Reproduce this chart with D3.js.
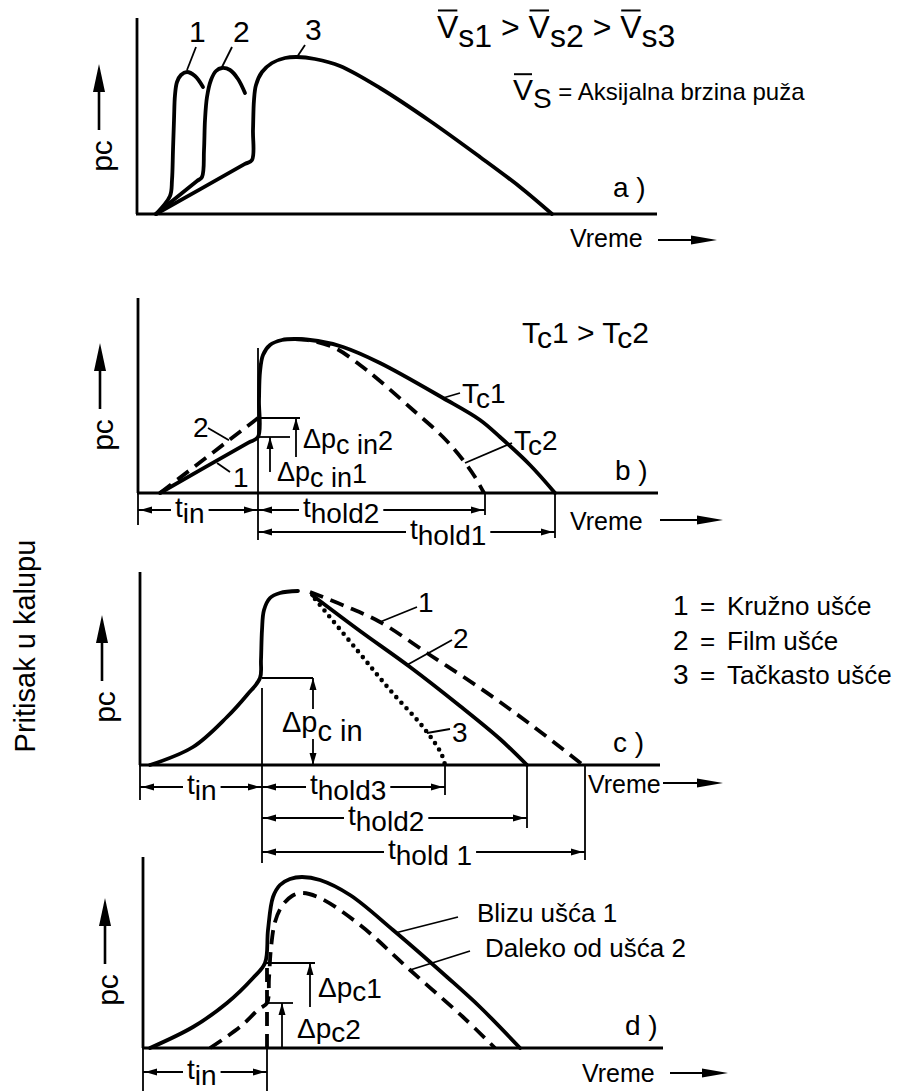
<!DOCTYPE html>
<html lang="sr">
<head>
<meta charset="UTF-8">
<title>Pritisak u kalupu</title>
<script src="https://d3js.org/d3.v7.min.js"></script>
<style>
    body { margin: 0; background: #fff; }
    svg { display: block; font-family: "Liberation Sans", Arial, sans-serif; }
    text { fill: #000; }
    .curve { fill: none; stroke: #000; stroke-width: 3.8; stroke-linejoin: round; stroke-linecap: round; }
    .dash { stroke-dasharray: 14 8; stroke-linecap: butt; }
    .dots { stroke-dasharray: 0 7.5; stroke-linecap: round; stroke-width: 4.6; }
    .axis { stroke: #000; stroke-width: 2.8; }
    .thin { stroke: #000; stroke-width: 1.8; fill: none; }
</style>
</head>
<body>
<svg id="chart" width="910" height="1091"></svg>
<script>
// all values in chart units: time 0..104, pressure 0..100

// a) axial screw speed
const aCurve1 = [[3.8,0],[6.6,9],[7,17],[7.2,32],[7.4,47],[7.6,59.5],[8,66],[8.8,69.5],[10,71],[11.6,69],[13.2,63.5]];
const aCurve2 = [[3.8,0],[12,16.5],[13,18.5],[13.4,32],[13.6,47],[14,58.5],[14.8,67],[15.8,71.5],[17,73],[18.6,72],[20.2,67.5],[21.6,60.5]];
const aCurve3 = [[3.8,0],[21.5,24.9],[23,27],[23.2,42],[23.4,57],[23.8,64.5],[25,71],[27,75.5],[29.6,78],[32,78.5],[35.6,77.5],[40.6,74],[48.6,63],[58.6,46.5],[68.6,28.5],[76.6,13.5],[83,0]];

// b) mould temperature
const bTc1 = [[4.4,0],[22,25.1],[24,28],[24.2,46.5],[24.4,60.5],[25,69],[26.4,74],[28.8,76.5],[31.4,77],[36,76],[41,73],[48.4,65],[61,47.5],[68.4,36.5],[72.4,28],[78.4,14],[83.4,0]];
const bTc2Rise = [[4.4,0],[24,37.5]];
const bTc2Fall = [[31.4,77],[33.8,76.5],[39.4,72.5],[44.4,64],[48.4,56],[55,41.5],[61,28],[65,16.5],[67.4,8],[69.2,0]];

// c) gate type
const cRise = [[2,0],[10.6,9],[17.4,24],[21.4,35],[24,43.5],[24.2,52.5],[24.4,67.5],[24.8,77.5],[26,83.5],[28,86],[31.6,87]];
const cGate1 = [[34,86.5],[41,79.5],[48,71.5],[58,55],[68,38.5],[78,20.5],[88.6,0]];
const cGate2 = [[34.4,85],[44,67],[54,49],[64,29.5],[72,13],[77.4,0]];
const cGate3 = [[35,83],[43.4,57.5],[50,37.5],[56.6,19],[60.2,6],[61,0]];

// d) distance from gate
const dNear = [[1.4,0],[10,10.5],[16.8,22.5],[22,35],[24.4,42.5],[25,59],[26,75.5],[27.4,81.5],[29.4,84.5],[31.8,85.5],[35.4,84],[41.4,76.5],[50,59],[60.8,35.5],[67.4,20.5],[75.4,0]];
const dFar = [[13.4,0],[19.4,10.5],[23.2,19.5],[24.8,22.5],[25.2,35],[25.6,50],[26.4,63],[27.8,71],[29.8,76],[31.8,77.5],[35.4,75],[43.4,61.5],[53.4,39],[64,15.5],[70.4,0]];

const gateNums = ["1", "2", "3"];
const gateNames = ["Kružno ušće", "Film ušće", "Tačkasto ušće"];

const panels = [
    {
        x0: 137, base: 214, top: 98,
        curves: [{pts: aCurve1, cls: "curve"}, {pts: aCurve2, cls: "curve"}, {pts: aCurve3, cls: "curve"}],
        labels: [
            {parts: [{t: "1"}], x: 10.4, y: 86, from: [10, 72], to: [11.8, 83.5], size: 30},
            {parts: [{t: "2"}], x: 19.2, y: 86, from: [17, 73.5], to: [19, 83.5], size: 30},
            {parts: [{t: "3"}], x: 33.6, y: 87, from: [32, 78.5], to: [33.6, 84.5], size: 30}
        ],
        texts: [
            {parts: [{t: "V", over: true}, {t: "s1", dy: 9}, {t: " > "}, {t: "V", over: true}, {t: "s2", dy: 9}, {t: " > "}, {t: "V", over: true}, {t: "s3", dy: 9}], x: 60, y: 88, size: 32},
            {parts: [{t: "V", over: true, size: 30}, {t: "S", dy: 8, size: 28}, {t: " = Aksijalna brzina puža", size: 24}], x: 75.2, y: 57, size: 30},
            {parts: [{t: "a )"}], x: 95.2, y: 8.5, size: 28}
        ],
        vreme: {tx: 86.6, ty: -16.5, a1: 104.2, a2: 116, ay: -13},
        vticks: [], hlines: [], arrows: [], dims: []
    },
    {
        x0: 138, base: 493, top: 97.5,
        curves: [{pts: bTc1, cls: "curve"}, {pts: bTc2Rise, cls: "curve dash"}, {pts: bTc2Fall, cls: "curve dash"}],
        labels: [
            {parts: [{t: "2"}], x: 11, y: 28, from: [18.2, 26.4], to: [14, 32.5]},
            {parts: [{t: "1"}], x: 19, y: 3, from: [15.8, 15], to: [18.4, 10.5]},
            {parts: [{t: "T"}, {t: "c", dy: 5}, {t: "1"}], x: 64.8, y: 45, from: [61, 47.5], to: [64.4, 50]},
            {parts: [{t: "T"}, {t: "c", dy: 5}, {t: "2"}], x: 75.2, y: 21.5, from: [65.4, 15], to: [74.8, 25]},
            {parts: [{t: "Δp"}, {t: "c in", dy: 6}, {t: "2", dy: 2}], x: 33, y: 22.5, size: 27},
            {parts: [{t: "Δp"}, {t: "c in", dy: 6}, {t: "1", dy: 2}], x: 27.8, y: 6, size: 27}
        ],
        texts: [
            {parts: [{t: "T"}, {t: "c", dy: 5}, {t: "1 > T"}, {t: "c", dy: 5}, {t: "2"}], x: 76.8, y: 75, size: 30},
            {parts: [{t: "b )"}], x: 95.4, y: 6.5, size: 28}
        ],
        vreme: {tx: 86.4, ty: -18.5, a1: 104.4, a2: 117, ay: -13.5},
        vticks: [[0, 0, -16], [24, 72.5, -23.5], [69.4, 0, -11], [83.4, 0, -22.5]],
        hlines: [[24, 37.5, 32.4], [24, 28, 30.4]],
        arrows: [{x: 31.6, tip: 37.5, tail: 18}, {x: 26.4, tip: 28, tail: 10.5}],
        dims: [
            {x1: 0, x2: 24, y: -8.5, tx: 7.4, sub: "in"},
            {x1: 24, x2: 69.4, y: -8.5, tx: 33, sub: "hold2"},
            {x1: 24, x2: 83.4, y: -19.5, tx: 54.4, sub: "hold1"}
        ]
    },
    {
        x0: 140, base: 765, top: 96.5,
        curves: [{pts: cRise, cls: "curve"}, {pts: cGate1, cls: "curve dash"}, {pts: cGate2, cls: "curve"}, {pts: cGate3, cls: "curve dots"}],
        labels: [
            {parts: [{t: "1"}], x: 55.6, y: 76.5, from: [48, 71.5], to: [55.4, 79]},
            {parts: [{t: "2"}], x: 62.6, y: 58.5, from: [53.4, 50], to: [62.4, 62.5]},
            {parts: [{t: "3"}], x: 62.4, y: 11.5, from: [57.4, 16], to: [62, 18]},
            {parts: [{t: "Δp"}, {t: "c in", dy: 9}], x: 28.4, y: 16.5, size: 29}
        ],
        texts: [{parts: [{t: "c )"}], x: 94.6, y: 6.5, size: 28}],
        vreme: {tx: 89.6, ty: -14, a1: 104.6, a2: 116.6, ay: -9},
        vticks: [[0, 0, -17.5], [24.4, 38.5, -49], [61, 0, -15], [77.4, 0, -31.5], [89, 0, -47.5]],
        hlines: [[24.4, 43.5, 34.6]],
        arrows: [{x: 34.6, tip: 43.5, tail: 28}, {x: 34.6, tip: 0, tail: 13}],
        dims: [
            {x1: 0, x2: 24.4, y: -11, tx: 9.4, sub: "in"},
            {x1: 24.4, x2: 61, y: -11, tx: 34, sub: "hold3"},
            {x1: 24.4, x2: 77.4, y: -26.5, tx: 41.6, sub: "hold2"},
            {x1: 24.4, x2: 89, y: -43.5, tx: 49.6, sub: "hold 1"}
        ]
    },
    {
        x0: 143, base: 1048, top: 95.5,
        curves: [{pts: dNear, cls: "curve"}, {pts: dFar, cls: "curve dash"}, {pts: [[24.8, 0], [24.8, 42.5]], cls: "curve dash", straight: true}],
        labels: [
            {parts: [{t: "Blizu ušća 1"}], x: 66.8, y: 63, from: [50.4, 57.5], to: [63, 65.5], size: 26},
            {parts: [{t: "Daleko od ušća 2"}], x: 68.4, y: 45.5, from: [53.4, 39], to: [65.4, 48.5], size: 26},
            {parts: [{t: "Δp"}, {t: "c", dy: 4}, {t: "1", dy: 1}], x: 35, y: 25.5},
            {parts: [{t: "Δp"}, {t: "c", dy: 4}, {t: "2", dy: 1}], x: 30.8, y: 5}
        ],
        texts: [{parts: [{t: "d )"}], x: 96.4, y: 6.5, size: 28}],
        vreme: {tx: 87.8, ty: -17, a1: 105.4, a2: 117, ay: -12.5},
        vticks: [[0, 0, -21.5], [24.8, 0, -21.5]],
        hlines: [[24.4, 42.5, 34.4], [24.8, 22.5, 30]],
        arrows: [{x: 33.4, tip: 42.5, tail: 20.5}, {x: 27.8, tip: 22.5, tail: 0}],
        dims: [{x1: 0, x2: 24.8, y: -12, tx: 8.8, sub: "in"}]
    }
];

// p_c arrow on every panel: tail/tip pressure at fixed time
const pcArrow = {x: -7.6, tail: 42, tip: 75};
const pcLabel = {x: -5, y: 29};

const svg = d3.select("#chart");

function head(g, x, y, dir, len, half) {
    const pts = {
        right: [[x, y], [x - len, y - half], [x - len, y + half]],
        left: [[x, y], [x + len, y - half], [x + len, y + half]],
        up: [[x, y], [x - half, y + len], [x + half, y + len]],
        down: [[x, y], [x - half, y - len], [x + half, y - len]]
    }[dir];
    g.append("path").attr("d", "M" + pts.join("L") + "Z").attr("fill", "#000");
}

function rich(g, x, y, parts, size) {
    const t = g.append("text").attr("x", x).attr("y", y).attr("font-size", size).style("white-space", "pre");
    let cur = 0;
    parts.forEach(p => {
        const s = p.dy || 0;
        t.append("tspan").attr("dy", s - cur).attr("font-size", p.size || size).text(p.t);
        cur = s;
    });
    let i = 0;
    parts.forEach(p => {
        if (p.over) {
            const b = t.node().getExtentOfChar(i);
            const yy = y + (p.dy || 0) - (p.size || size) * 0.86;
            g.append("line").attr("x1", b.x + 1).attr("x2", b.x + b.width - 1)
                .attr("y1", yy).attr("y2", yy).attr("stroke", "#000").attr("stroke-width", 2);
        }
        i += p.t.length;
    });
    return t;
}

function drawPanel(p) {
    const x = d3.scaleLinear().domain([0, 104]).range([p.x0, p.x0 + 520]);
    const y = d3.scaleLinear().domain([0, 100]).range([p.base, p.base - 200]);
    const g = svg.append("g");
    const smooth = d3.line().x(d => x(d[0])).y(d => y(d[1])).curve(d3.curveCatmullRom.alpha(0.5));
    const straight = d3.line().x(d => x(d[0])).y(d => y(d[1]));

    // axes
    g.append("line").attr("class", "axis").attr("x1", x(0)).attr("x2", x(0)).attr("y1", y(0)).attr("y2", y(p.top));
    g.append("line").attr("class", "axis").attr("x1", x(0) - 1).attr("x2", x(104)).attr("y1", y(0)).attr("y2", y(0));

    // p_c label with arrow
    g.append("line").attr("stroke", "#000").attr("stroke-width", 2.6)
        .attr("x1", x(pcArrow.x)).attr("x2", x(pcArrow.x))
        .attr("y1", y(pcArrow.tail)).attr("y2", y(pcArrow.tip) + 20);
    head(g, x(pcArrow.x), y(pcArrow.tip), "up", 28, 6);
    g.append("text").attr("font-size", 30).attr("text-anchor", "middle")
        .attr("transform", `translate(${x(pcLabel.x)},${y(pcLabel.y)}) rotate(-90)`)
        .text("pc");

    // reference lines
    p.vticks.forEach(v => {
        g.append("line").attr("class", "thin").attr("x1", x(v[0])).attr("x2", x(v[0])).attr("y1", y(v[1])).attr("y2", y(v[2]));
    });
    p.hlines.forEach(h => {
        g.append("line").attr("class", "thin").attr("x1", x(h[0])).attr("x2", x(h[2])).attr("y1", y(h[1])).attr("y2", y(h[1]));
    });
    p.arrows.forEach(a => {
        g.append("line").attr("class", "thin").attr("x1", x(a.x)).attr("x2", x(a.x)).attr("y1", y(a.tip)).attr("y2", y(a.tail));
        head(g, x(a.x), y(a.tip), a.tip > a.tail ? "up" : "down", 12, 3.5);
    });

    // curves
    p.curves.forEach(c => {
        g.append("path").attr("class", c.cls).attr("d", (c.straight ? straight : smooth)(c.pts));
    });

    // labels with leader lines
    p.labels.forEach(l => {
        if (l.from) {
            g.append("path").attr("class", "thin").attr("d", straight([l.from, l.to]));
        }
        rich(g, x(l.x), y(l.y), l.parts, l.size || 28);
    });
    p.texts.forEach(t => rich(g, x(t.x), y(t.y), t.parts, t.size));

    // time dimensions
    p.dims.forEach(d => {
        const yy = y(d.y);
        const t = rich(g, x(d.tx), yy + 7, [{t: "t"}, {t: d.sub, dy: 6}], 28);
        const bb = t.node().getBBox();
        g.append("line").attr("class", "thin").attr("x1", x(d.x1)).attr("x2", bb.x - 4).attr("y1", yy).attr("y2", yy);
        g.append("line").attr("class", "thin").attr("x1", bb.x + bb.width + 4).attr("x2", x(d.x2)).attr("y1", yy).attr("y2", yy);
        head(g, x(d.x1) + 2, yy, "left", 12, 3.5);
        head(g, x(d.x2) - 2, yy, "right", 12, 3.5);
    });

    // time axis label
    const v = p.vreme;
    rich(g, x(v.tx), y(v.ty), [{t: "Vreme"}], 25);
    g.append("line").attr("stroke", "#000").attr("stroke-width", 2)
        .attr("x1", x(v.a1)).attr("x2", x(v.a2) - 20).attr("y1", y(v.ay)).attr("y2", y(v.ay));
    head(g, x(v.a2), y(v.ay), "right", 26, 4.5);
}

panels.forEach(drawPanel);

// gate legend
const legend = svg.append("g");
gateNums.forEach((n, i) => {
    const by = 615 + i * 34.5;
    legend.append("text").attr("x", 673).attr("y", by).attr("font-size", 28).text(n);
    legend.append("text").attr("x", 700).attr("y", by).attr("font-size", 26).text("=");
    legend.append("text").attr("x", 727).attr("y", by).attr("font-size", 26).text(gateNames[i]);
});

// shared y title
svg.append("text").attr("font-size", 29).attr("text-anchor", "middle")
    .attr("transform", "translate(35,646) rotate(-90)")
    .text("Pritisak u kalupu");
</script>
</body>
</html>
